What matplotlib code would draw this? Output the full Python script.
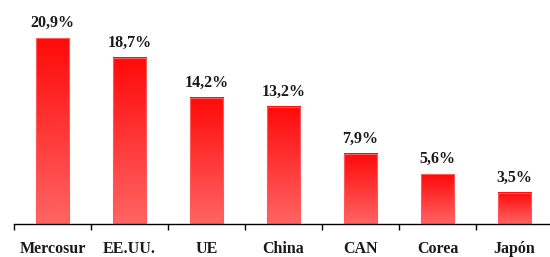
import numpy as np
import matplotlib
matplotlib.use("Agg")
import matplotlib.pyplot as plt
from matplotlib.colors import LinearSegmentedColormap

categories = ["Mercosur", "EE.UU.", "UE", "China", "CAN", "Corea", "Japón"]
values = [20.9, 18.7, 14.2, 13.2, 7.9, 5.6, 3.5]
labels = ["20,9%", "18,7%", "14,2%", "13,2%", "7,9%", "5,6%", "3,5%"]

W, H = 550, 257
fig = plt.figure(figsize=(W / 100, H / 100), dpi=100)
ax = fig.add_axes([14 / W, 33 / H, 539 / W, 222 / H])
ax.set_xlim(-0.5, len(categories) - 0.5)
ax.set_ylim(0, 25)

bar_w = 0.43
cmap = LinearSegmentedColormap.from_list("g", ["#ff6464", "#ff0a0a"])
grad = np.linspace(0, 1, 256).reshape(-1, 1)
x = np.arange(len(categories))
bars = ax.bar(x, values, width=bar_w, color="none", edgecolor="#ff5a5a", linewidth=0.8, zorder=3)
for b in bars:
    x0, y0 = b.get_x(), b.get_y()
    ax.imshow(grad, cmap=cmap, origin="lower", aspect="auto",
              extent=[x0, x0 + b.get_width(), y0, y0 + b.get_height()], zorder=2)

vfont = dict(family="Liberation Serif", fontweight="bold", fontsize=11.5, color="#1a1a1a")
cfont = dict(family="Liberation Serif", fontweight="bold", fontsize=11.5, color="#1a1a1a")
for xi, v, lab in zip(x, values, labels):
    ax.annotate(lab, (xi, v), xytext=(0, 8), textcoords="offset points",
                ha="center", va="baseline", **vfont)
for xi, c in zip(x, categories):
    ax.annotate(c, (xi, 0), xycoords=("data", "axes fraction"), xytext=(0, -20.8),
                textcoords="offset points", ha="center", va="baseline", annotation_clip=False, **cfont)

for s in ["top", "right", "left"]:
    ax.spines[s].set_visible(False)
ax.spines["bottom"].set_linewidth(1.0)
ax.set_yticks([])
ax.set_xticks([])
ax.set_xticks(np.arange(-0.5, len(categories) + 0.5, 1.0), minor=True)
ax.tick_params(axis="x", which="minor", direction="out", length=4, width=1.0, labelbottom=False)
fig.savefig("out.png", dpi=100)
